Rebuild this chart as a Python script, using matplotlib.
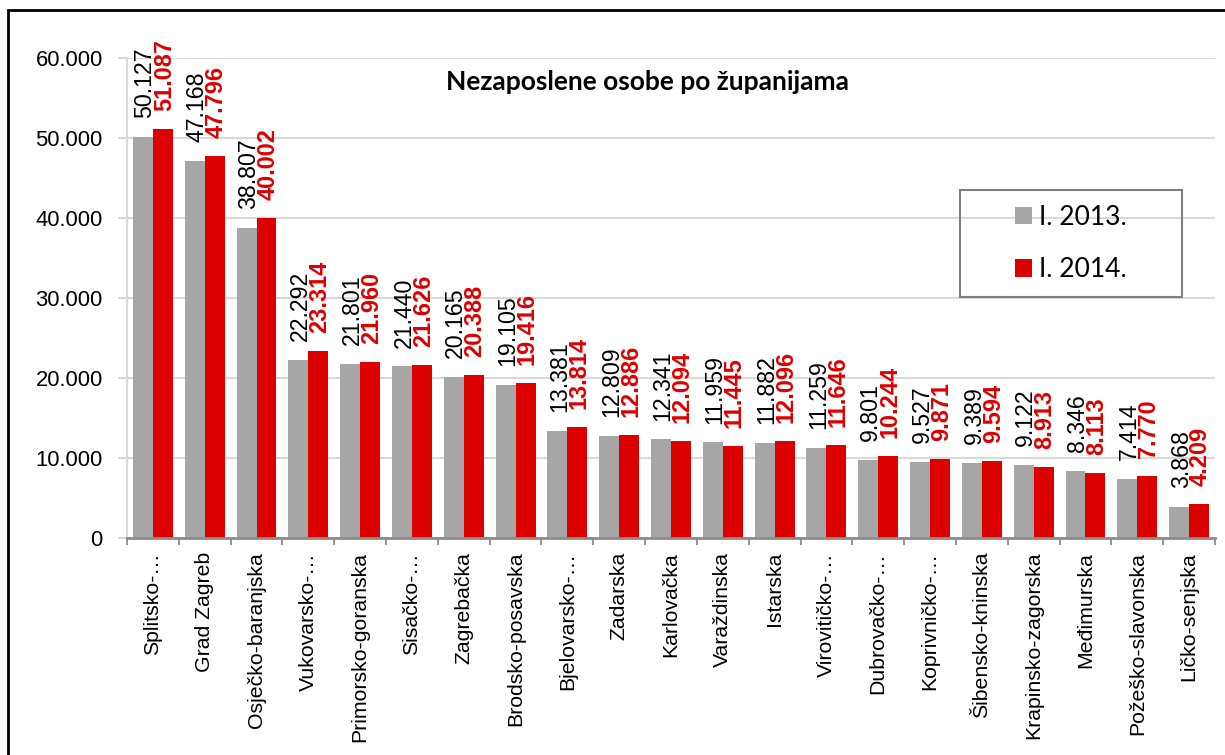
import matplotlib
matplotlib.use("Agg")
import matplotlib.pyplot as plt
from matplotlib.patches import Rectangle
from matplotlib.ticker import FuncFormatter, MultipleLocator
import numpy as np

# podaci: nezaposleni po zupanijama
zupanije = ["Splitsko-…", "Grad Zagreb", "Osječko-baranjska", "Vukovarsko-…",
            "Primorsko-goranska", "Sisačko-…", "Zagrebačka", "Brodsko-posavska",
            "Bjelovarsko-…", "Zadarska", "Karlovačka", "Varaždinska", "Istarska",
            "Virovitičko-…", "Dubrovačko-…", "Koprivničko-…", "Šibensko-kninska",
            "Krapinsko-zagorska", "Međimurska", "Požeško-slavonska", "Ličko-senjska"]
god_2013 = [50127, 47168, 38807, 22292, 21801, 21440, 20165, 19105, 13381, 12809,
            12341, 11959, 11882, 11259, 9801, 9527, 9389, 9122, 8346, 7414, 3868]
god_2014 = [51087, 47796, 40002, 23314, 21960, 21626, 20388, 19416, 13814, 12886,
            12094, 11445, 12096, 11646, 10244, 9871, 9594, 8913, 8113, 7770, 4209]
oznake = ["I. 2013.", "I. 2014."]

arial = ["Liberation Sans", "DejaVu Sans"]
calibri = ["Lato", "DejaVu Sans"]
siva = "#a6a6a6"
crvena = "#dd0000"


def tocka(v, pos=None):
    # tisuce odvojene tockom
    return f"{int(v):,}".replace(",", ".")


fig = plt.figure(figsize=(12.25, 7.55), dpi=100)
ax = fig.add_axes([127 / 1225, 1 - 538 / 755, (1215 - 127) / 1225, (538 - 58) / 755])

x = np.arange(len(zupanije))
w = 0.385
b1 = ax.bar(x - w / 2, god_2013, w, color=siva, label=oznake[0], zorder=3)
b2 = ax.bar(x + w / 2, god_2014, w, color=crvena, label=oznake[1], zorder=3)

# vrijednosti iznad stupaca
for r, v in zip(b1, god_2013):
    ax.annotate(tocka(v), (r.get_x() + r.get_width() / 2, v), xytext=(1.5, 13.5),
                textcoords="offset points", rotation=90, ha="center", va="bottom",
                fontsize=16.7, family=arial, color="black")
for r, v in zip(b2, god_2014):
    ax.annotate(tocka(v), (r.get_x() + r.get_width() / 2, v), xytext=(1, 13),
                textcoords="offset points", rotation=90, ha="center", va="bottom",
                fontsize=16.9, family=arial, color=crvena, fontweight="bold")

ax.set_xlim(-0.5, len(zupanije) - 0.5)
ax.set_ylim(0, 60000)
ax.yaxis.set_major_locator(MultipleLocator(10000))
ax.yaxis.set_major_formatter(FuncFormatter(tocka))
ax.grid(axis="y", color="#d9d9d9", lw=1.5, zorder=0)

ax.set_xticks(x)
ax.set_xticklabels(zupanije, rotation=90, ha="center", va="top", family=arial,
                   fontsize=15.3)
ax.set_xticks(np.arange(len(zupanije) + 1) - 0.5, minor=True)
ax.tick_params(axis="x", which="major", length=0, pad=10)
ax.tick_params(axis="x", which="minor", length=5, width=1.3, color="#8c8c8c")
ax.tick_params(axis="y", length=6.5, width=1.3, color="#d0d0d0", pad=11,
               labelsize=15.8)
for t in ax.get_yticklabels():
    t.set_family(arial)

for s in ["top", "right"]:
    ax.spines[s].set_visible(False)
ax.spines["left"].set_color("#d9d9d9")
ax.spines["left"].set_linewidth(1.5)
ax.spines["bottom"].set_color("#8c8c8c")
ax.spines["bottom"].set_linewidth(2)
ax.spines["bottom"].set_zorder(4)

fig.text(647 / 1225, 1 - 82 / 755, "Nezaposlene osobe po županijama", ha="center",
         va="center", fontsize=19, fontweight="bold", family=calibri)

# legenda s okvirom
leg = fig.legend(loc="center", bbox_to_anchor=(1071 / 1225, 1 - 243.5 / 755),
                 frameon=False, prop={"family": calibri, "size": 19},
                 handlelength=0.65, handleheight=0.65, handletextpad=0.25,
                 labelspacing=1.05)
fig.patches.append(Rectangle((960 / 1225, 1 - 297 / 755), 222 / 1225, 107 / 755,
                             transform=fig.transFigure, fill=False,
                             ec="#808080", lw=1.5))

# okvir oko cijele slike
fig.patches.append(Rectangle((8 / 1225, -0.1), 1.2, 1.1 - 10 / 755,
                             transform=fig.transFigure, fill=False,
                             ec="black", lw=2))

fig.savefig("out.png", dpi=100)
